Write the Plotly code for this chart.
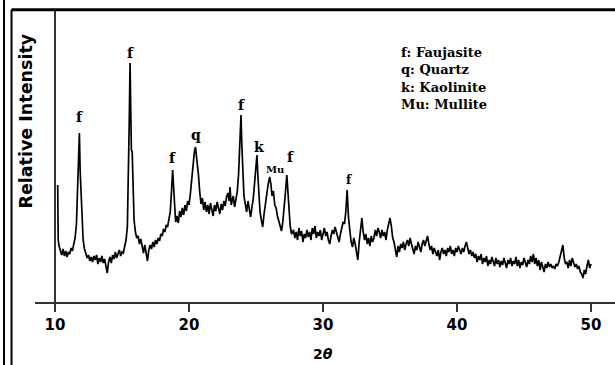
import plotly.graph_objects as go

# ---- data (2-theta, relative intensity, arbitrary units) ----
two_theta = [
    10.20, 10.24, 10.30, 10.40, 10.50, 10.60, 10.70, 10.80, 10.90, 11.00, 11.10, 11.20, 11.30, 11.40, 11.50,
    11.60, 11.70, 11.76, 11.82, 11.88, 11.94, 12.00, 12.10, 12.20,
    12.30, 12.40, 12.50, 12.60, 12.70, 12.80, 12.90, 13.00, 13.10, 13.20, 13.30, 13.40, 13.50, 13.60, 13.70,
    13.80, 13.90, 14.00, 14.10, 14.20, 14.30, 14.40, 14.50, 14.60, 14.70, 14.80, 14.90, 15.00, 15.10, 15.20,
    15.30, 15.40, 15.48, 15.54, 15.60, 15.65, 15.70, 15.76, 15.82, 15.90, 16.00, 16.10,
    16.20, 16.30, 16.40, 16.50, 16.60, 16.70, 16.80, 16.90, 17.00, 17.10, 17.20, 17.30, 17.40, 17.50, 17.60,
    17.70, 17.80, 17.90, 18.00, 18.10, 18.20, 18.30, 18.40, 18.50, 18.60, 18.70, 18.78, 18.84, 18.90, 19.00,
    19.10, 19.20, 19.30, 19.40, 19.50, 19.60, 19.70, 19.80, 19.90, 20.00, 20.10, 20.20, 20.30, 20.40, 20.48,
    20.55, 20.62, 20.70, 20.80, 20.90, 21.00,
    21.10, 21.20, 21.30, 21.40, 21.50, 21.60, 21.70, 21.80, 21.90, 22.00, 22.10, 22.20, 22.30, 22.40, 22.50,
    22.60, 22.70, 22.80, 22.90, 23.00, 23.06, 23.15, 23.30, 23.40, 23.50, 23.60, 23.70, 23.80, 23.88, 23.94,
    24.00, 24.10,
    24.20, 24.30, 24.40, 24.50, 24.60, 24.70, 24.80, 24.90, 25.00, 25.07, 25.14, 25.22, 25.30, 25.40, 25.50,
    25.60, 25.70, 25.80, 25.90, 26.02, 26.10, 26.20, 26.30, 26.40, 26.50, 26.60, 26.70, 26.80, 26.90, 27.00,
    27.10, 27.20, 27.30, 27.38, 27.46, 27.55, 27.65,
    27.80, 27.90, 28.00, 28.10, 28.20, 28.30, 28.40, 28.50, 28.60, 28.70, 28.80, 28.90, 29.00, 29.10, 29.20,
    29.30, 29.40, 29.50, 29.60, 29.70, 29.80, 29.90, 30.00, 30.10, 30.20, 30.30, 30.40, 30.50, 30.60, 30.70,
    30.80, 30.90, 31.00, 31.10, 31.20, 31.30, 31.40, 31.50, 31.60, 31.70, 31.80, 31.85, 31.90,
    32.00, 32.10, 32.20, 32.30, 32.40, 32.50, 32.60, 32.70, 32.80, 32.90, 33.00, 33.10, 33.20, 33.30, 33.40,
    33.50, 33.60, 33.70, 33.80, 33.90, 34.00, 34.10, 34.20, 34.30, 34.40, 34.50, 34.60, 34.70, 34.80, 34.90,
    35.00, 35.10, 35.20, 35.30, 35.40, 35.50, 35.60, 35.70, 35.80, 35.90, 36.00, 36.10, 36.20, 36.30, 36.40,
    36.50, 36.60, 36.70, 36.80, 36.90, 37.00, 37.10, 37.20, 37.30, 37.40, 37.50, 37.60, 37.70, 37.80, 37.90,
    38.00, 38.10, 38.20, 38.30, 38.40, 38.50, 38.60, 38.70, 38.80, 38.90, 39.00, 39.10, 39.20, 39.30, 39.40,
    39.50, 39.60, 39.70, 39.80, 39.90, 40.00, 40.10, 40.20, 40.30, 40.40, 40.50, 40.60, 40.70, 40.80, 40.90,
    41.00, 41.10, 41.20, 41.30, 41.40, 41.50, 41.60, 41.70, 41.80, 41.90, 42.00, 42.10, 42.20, 42.30, 42.40,
    42.50, 42.60, 42.70, 42.80, 42.90, 43.00, 43.10, 43.20, 43.30, 43.40, 43.50, 43.60, 43.70, 43.80, 43.90,
    44.00, 44.10, 44.20, 44.30, 44.40, 44.50, 44.60, 44.70, 44.80, 44.90, 45.00, 45.10, 45.20, 45.30, 45.40,
    45.50, 45.60, 45.70, 45.80, 45.90, 46.00, 46.10, 46.20, 46.30, 46.40, 46.50, 46.60, 46.70, 46.80, 46.90,
    47.00, 47.10, 47.20, 47.30, 47.40, 47.50, 47.60, 47.70, 47.80, 47.90, 48.00, 48.10, 48.20, 48.30, 48.40,
    48.50, 48.60, 48.70, 48.80, 48.90, 49.00, 49.10, 49.20, 49.30, 49.40, 49.50, 49.60, 49.70, 49.80, 49.90,
    50.00,
]
intensity = [
    117, 62, 56, 50, 47, 53, 46, 51, 45, 50, 48, 54, 51, 58, 64,
    78, 118, 128, 169, 130, 112, 88, 62, 53,
    48, 44, 47, 41, 45, 40, 46, 42, 47, 38, 44, 40, 46, 39, 43,
    36, 29, 40, 45, 39, 47, 43, 50, 44, 48, 52, 46, 50, 49, 56,
    62, 75, 120, 180, 239, 200, 152, 150, 112, 82, 70, 64,
    66, 58, 63, 54, 49, 57, 46, 41, 52, 57, 53, 60, 55, 62, 58,
    64, 61, 68, 66, 73, 70, 77, 75, 84, 90, 112, 132, 118, 100, 80,
    86, 79, 91, 85, 94, 87, 97, 91, 101, 97, 108, 124, 140, 150, 155,
    148, 141, 128, 110, 98, 104,
    92, 100, 90, 97, 88, 99, 93, 86, 97, 91, 100, 94, 88, 98, 92,
    101, 96, 105, 109, 101, 115, 97, 106, 95, 103, 110, 128, 160, 187, 158,
    128, 106,
    98, 90, 101, 92, 85, 95, 104, 120, 134, 147, 126, 102, 90, 82, 75,
    88, 99, 110, 117, 125, 119, 106, 111, 97, 94, 86, 80, 76, 71, 80,
    92, 110, 127, 110, 90, 76, 68,
    72, 64, 70, 62, 74, 66, 71, 60, 68, 64, 72, 65, 70, 62, 74,
    68, 76, 64, 70, 66, 72, 62, 68, 74, 66, 70, 62, 58, 66, 72,
    68, 75, 70, 64, 60, 68, 74, 80, 78, 90, 112, 95, 85,
    72, 60, 55, 64, 58, 50, 42, 60, 72, 84, 70, 62, 68, 58, 64,
    56, 66, 60, 64, 72, 66, 74, 70, 64, 72, 66, 70, 62, 72, 78,
    84, 76, 64, 60, 52, 45, 56, 50, 58, 54, 60, 52, 58, 62, 56,
    64, 58, 52, 48, 56, 52, 60, 55, 50, 58, 62, 56, 60, 66, 58,
    52, 56, 48, 54, 50, 46, 52, 42, 50, 54, 48, 52, 46, 54, 50,
    56, 48, 52, 46, 54, 50, 56, 52, 48, 54, 50, 56, 60, 54, 48,
    52, 46, 50, 44, 48, 40, 46, 42, 48, 38, 44, 40, 46, 36, 42,
    38, 45, 40, 36, 44, 38, 42, 35, 41, 37, 44, 39, 34, 42, 38,
    44, 36, 41, 38, 45, 36, 42, 34, 40, 37, 44, 39, 35, 42, 38,
    46, 40, 48, 38, 44, 36, 42, 32, 40, 36, 30, 38, 34, 40, 35,
    38, 34, 36, 33, 38, 36, 40, 46, 52, 57, 44, 38, 40, 34, 42,
    36, 44, 38, 35, 38, 33, 36, 30, 28, 24, 32, 28, 36, 42, 34,
    38,
]

# peak markers
peak_labels = ["f", "f", "f", "q", "f", "k", "Mu", "f", "f"]
peak_x = [11.8, 15.6, 18.8, 20.5, 23.9, 25.2, 26.4, 27.6, 31.95]
peak_y = [185, 249, 144, 167, 197, 155, 133, 145, 122]
peak_sizes = [14, 14, 14, 14, 14, 14, 10, 14, 12]

# phase key
key_lines = ["f: Faujasite", "q: Quartz", "k: Kaolinite", "Mu: Mullite"]

x_ticks = [10, 20, 30, 40, 50]

fig = go.Figure()
fig.add_trace(go.Scatter(
    x=two_theta, y=intensity, mode="lines",
    line=dict(color="black", width=1.7),
    showlegend=False, hoverinfo="skip",
))

for lab, px, py, fs in zip(peak_labels, peak_x, peak_y, peak_sizes):
    fig.add_annotation(
        x=px, y=py, xref="x", yref="y", text=lab, showarrow=False,
        font=dict(family="DejaVu Serif", size=fs, color="black", weight="bold"),
        xanchor="center", yanchor="middle",
    )

for i, line in enumerate(key_lines):
    fig.add_annotation(
        x=35.7, y=250 - i * 17.5, xref="x", yref="y", text=line, showarrow=False,
        font=dict(family="DejaVu Serif", size=13, color="black", weight="bold"),
        xanchor="left", yanchor="middle",
    )

# axis titles as annotations
fig.add_annotation(
    x=0, y=0.62, xref="paper", yref="paper", xshift=-9, text="Relative Intensity",
    textangle=-90, showarrow=False,
    font=dict(family="DejaVu Sans", size=17.5, color="black", weight="bold"),
    xanchor="center", yanchor="middle",
)
fig.add_annotation(
    x=30, y=0, xref="x", yref="paper", yshift=-52, text="<b>2<i>θ</i></b>",
    showarrow=False, font=dict(family="DejaVu Sans", size=14, color="black"),
    xanchor="center", yanchor="middle",
)

# frame lines around the figure
frame = dict(color="black", width=2)
fig.add_shape(type="line", xref="paper", yref="paper", x0=-0.0534, x1=-0.0534, y0=1.04, y1=-0.22, line=frame)
fig.add_shape(type="line", xref="paper", yref="paper", x0=-0.0405, x1=-0.0405, y0=1.004, y1=-0.22, line=frame)
fig.add_shape(type="line", xref="paper", yref="paper", x0=-0.0405, x1=1.01, y0=1.004, y1=1.004,
              line=dict(color="black", width=3))

fig.update_layout(
    width=615, height=365,
    margin=dict(l=35, r=0, t=11, b=63),
    paper_bgcolor="white", plot_bgcolor="white",
    xaxis=dict(
        range=[8.507, 51.79], tickvals=x_ticks, ticktext=[str(v) for v in x_ticks],
        showline=True, linecolor="#333", linewidth=2, ticks="outside", ticklen=8,
        tickwidth=2, tickcolor="#333", showgrid=False, zeroline=False,
        tickfont=dict(family="DejaVu Sans", size=15, color="black", weight="bold"),
    ),
    yaxis=dict(
        range=[0, 291], showline=True, linecolor="#333", linewidth=2,
        anchor="free", position=0.0345, showticklabels=False, ticks="",
        showgrid=False, zeroline=False,
    ),
)

fig.write_html(
    "out.html",
    config={"displayModeBar": False},
    post_script="document.body.style.margin='0';document.body.style.padding='0';"
                "document.body.style.overflow='hidden';",
)
